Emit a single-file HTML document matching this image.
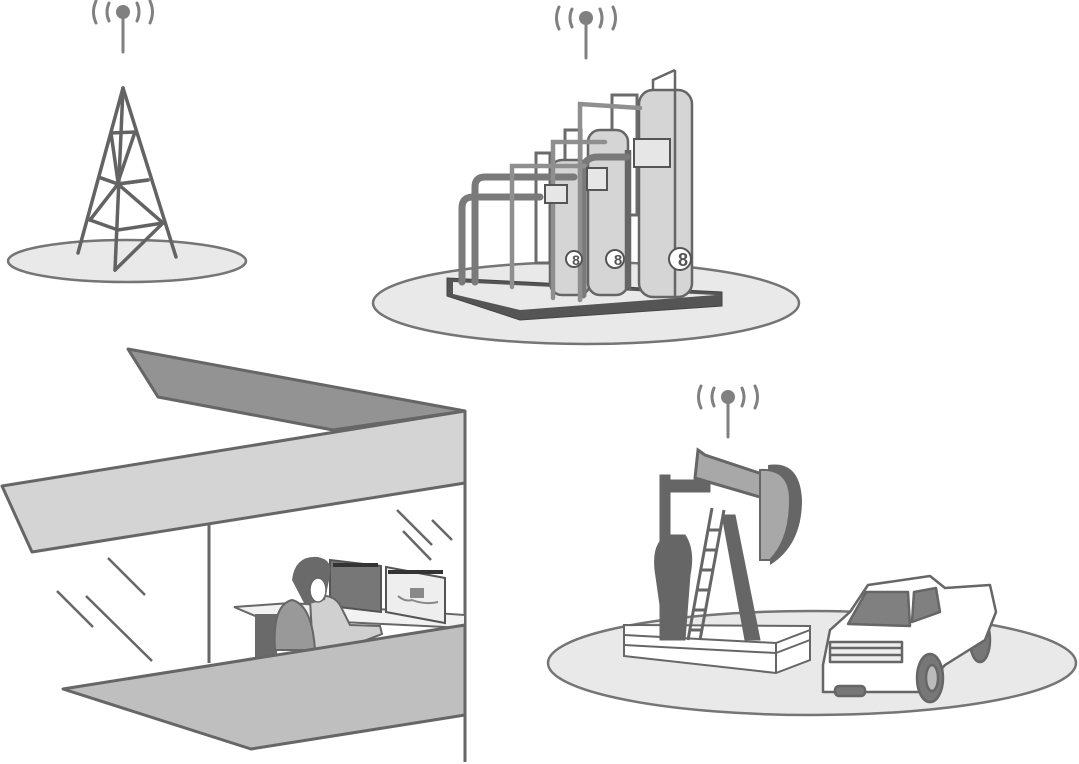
<!DOCTYPE html>
<html><head><meta charset="utf-8"><style>html,body{margin:0;padding:0;background:#fff}svg{display:block}</style></head><body>
<svg width="1079" height="764" viewBox="0 0 1079 764" xmlns="http://www.w3.org/2000/svg">
<defs>
<g id="ant" stroke="#808080" fill="none" stroke-linecap="round">
<circle cx="0" cy="0" r="7" fill="#808080" stroke="none"/>
<line x1="0" y1="0" x2="0" y2="40" stroke-width="3"/>
<path d="M-14,-9 Q-18,0 -14,9 M14,-9 Q18,0 14,9" stroke-width="3"/>
<path d="M-27,-11 Q-32,0 -27,11 M27,-11 Q32,0 27,11" stroke-width="3"/>
</g>
</defs>
<use href="#ant" x="123" y="12"/>
<use href="#ant" x="586" y="18"/>
<use href="#ant" x="728" y="397"/>

<!-- tower -->
<ellipse cx="127" cy="261" rx="119" ry="21" fill="#e8e9e8" stroke="#757575" stroke-width="2.5"/>
<g stroke="#636363" stroke-width="3.5" fill="none" stroke-linecap="round">
<line x1="123" y1="88" x2="78" y2="253"/>
<line x1="123" y1="88" x2="176" y2="257"/>
<line x1="123" y1="88" x2="115" y2="270"/>
<path d="M111,133 L135,132 L118,182 L111,133"/>
<path d="M101,178 L118,184 L148,180"/>
<path d="M90,220 L118,230 L163,223"/>
<path d="M101,178 L118,184 L163,223 M148,180 L118,184 L90,220"/>
<path d="M115,270 L163,223"/>
</g>

<!-- plant -->
<ellipse cx="586" cy="303" rx="213" ry="41" fill="#e8e9e8" stroke="#757575" stroke-width="2.5"/>
<polygon points="447,278 722,292 722,306 520,320 447,296" fill="#555" stroke="#444" stroke-width="1"/>
<polygon points="453,282 716,295 520,310 453,294" fill="#e8e9e8"/>
<g stroke="#6b6b6b" stroke-width="3" fill="none">
<rect x="536" y="153" width="14" height="110"/>
<rect x="565" y="130" width="16" height="130"/>
<rect x="612" y="95" width="25" height="120"/>
</g>
<g stroke="#666" stroke-width="2.5">
<rect x="550" y="160" width="40" height="135" rx="12" fill="#d4d5d4"/>
<rect x="588" y="130" width="40" height="165" rx="12" fill="#d4d5d4"/>
<rect x="639" y="90" width="53" height="207" rx="14" fill="#d4d5d4"/>
<line x1="675" y1="70" x2="675" y2="297"/>
<path d="M653,90 L653,80 L675,70" fill="none"/>
<line x1="630" y1="150" x2="630" y2="290"/><line x1="626" y1="150" x2="626" y2="290"/>
</g>
<g stroke="#666" stroke-width="1.5">
<line x1="626" y1="170" x2="630" y2="170"/><line x1="626" y1="185" x2="630" y2="185"/><line x1="626" y1="200" x2="630" y2="200"/><line x1="626" y1="215" x2="630" y2="215"/><line x1="626" y1="230" x2="630" y2="230"/><line x1="626" y1="245" x2="630" y2="245"/><line x1="626" y1="260" x2="630" y2="260"/><line x1="626" y1="275" x2="630" y2="275"/>
</g>
<g stroke="#7a7a7a" stroke-width="7" fill="none" stroke-linecap="round">
<path d="M462,282 L462,208 Q462,197 473,197 L540,197"/>
<path d="M475,282 L475,187 Q475,177 485,177 L574,177"/>
<path d="M583,295 L583,172 Q583,157 598,157 L627,157"/>
</g>
<g stroke="#8f8f8f" stroke-width="4.5" fill="none" stroke-linecap="round">
<path d="M512,287 L512,166 L585,166"/>
<path d="M553,298 L553,142 L605,142"/>
<path d="M580,300 L580,104 L640,108"/>
</g>
<g stroke="#555" stroke-width="2" fill="#e6e6e6">
<rect x="545" y="185" width="22" height="18"/>
<rect x="587" y="168" width="20" height="22"/>
<rect x="634" y="139" width="36" height="28"/>
<circle cx="574" cy="259" r="8" fill="#fff"/><circle cx="615" cy="259" r="9" fill="#fff"/><circle cx="680" cy="259" r="11" fill="#fff"/>
</g>
<g font-family="Liberation Sans, sans-serif" font-weight="bold" fill="#555" text-anchor="middle">
<text x="576" y="265" font-size="14">8</text><text x="618" y="265" font-size="15">8</text><text x="683" y="266" font-size="18">8</text>
</g>

<!-- building -->
<polygon points="128,349 465,411 333,430 158,397" fill="#939393" stroke="#666" stroke-width="3" stroke-linejoin="round"/>
<polygon points="2,486 465,411 465,483 32,552" fill="#d4d4d4" stroke="#666" stroke-width="3" stroke-linejoin="round"/>
<line x1="465" y1="411" x2="465" y2="762" stroke="#666" stroke-width="3"/>
<line x1="209" y1="525" x2="209" y2="663" stroke="#666" stroke-width="3"/>
<g stroke="#666" stroke-width="2.5">
<line x1="108" y1="558" x2="145" y2="595"/><line x1="57" y1="591" x2="93" y2="627"/><line x1="86" y1="596" x2="152" y2="661"/>
<line x1="397" y1="510" x2="432" y2="545"/><line x1="403" y1="531" x2="431" y2="560"/><line x1="432" y1="520" x2="452" y2="540"/>
</g>
<polygon points="234,607 290,603 465,615 465,628 260,618" fill="#f2f2f2" stroke="#666" stroke-width="2"/>
<rect x="255" y="614" width="22" height="45" fill="#6a6a6a"/>
<polygon points="330,560 381,566 381,612 330,606" fill="#777" stroke="#555" stroke-width="2"/>
<rect x="333" y="563" width="45" height="4" fill="#333"/>
<polygon points="386,567 445,578 445,623 386,612" fill="#eee" stroke="#555" stroke-width="2"/>
<rect x="388" y="570" width="55" height="4" fill="#333"/>
<rect x="410" y="588" width="14" height="10" fill="#888"/>
<path d="M398,596 Q405,602 412,600 Q425,605 438,602" stroke="#888" stroke-width="2" fill="none"/>
<path d="M310,600 Q330,590 340,605 L350,625 L380,626 L382,634 L340,650 L313,650 Z" fill="#d0d0d0" stroke="#666" stroke-width="2"/>
<path d="M292,580 Q295,555 318,557 Q333,560 330,575 L325,600 L305,605 Z" fill="#6a6a6a"/>
<ellipse cx="318" cy="590" rx="8" ry="12" fill="#fff" stroke="#666" stroke-width="1.5"/>
<path d="M275,650 Q272,605 292,600 Q312,605 315,650 Z" fill="#999" stroke="#666" stroke-width="2"/>
<polygon points="63,689 465,625 465,715 251,749" fill="#bfbfbf" stroke="#666" stroke-width="3" stroke-linejoin="round"/>

<!-- pump jack -->
<ellipse cx="812" cy="663" rx="264" ry="52" fill="#e8e9e8" stroke="#757575" stroke-width="2.5"/>
<g stroke="#666" stroke-width="2" fill="#fff">
<polygon points="624,625 810,626 810,660 776,673 624,656"/>
<line x1="624" y1="635" x2="776" y2="643"/><line x1="624" y1="645" x2="776" y2="653"/>
<line x1="776" y1="643" x2="810" y2="630"/><line x1="776" y1="653" x2="810" y2="640"/><line x1="776" y1="643" x2="776" y2="673"/>
</g>
<g fill="#666" stroke="#666">
<rect x="660" y="475" width="10" height="165"/>
<path d="M655,570 Q652,540 670,535 L685,535 Q695,550 690,575 L685,640 L665,640 Z"/>
<rect x="660" y="480" width="50" height="12"/>
<polygon points="722,515 735,515 760,640 745,640"/>
</g>
<g stroke="#666" stroke-width="3">
<line x1="712" y1="508" x2="688" y2="640"/><line x1="724" y1="510" x2="700" y2="640"/>
<line x1="708" y1="530" x2="721" y2="530"/><line x1="705" y1="550" x2="718" y2="550"/><line x1="701" y1="570" x2="714" y2="570"/><line x1="697" y1="590" x2="710" y2="590"/><line x1="694" y1="610" x2="706" y2="610"/><line x1="690" y1="630" x2="702" y2="630"/>
</g>
<polygon points="698,450 705,455 780,480 770,500 695,478" fill="#a8a8a8" stroke="#666" stroke-width="3"/>
<path d="M768,465 Q800,460 802,500 Q802,545 770,565 Z" fill="#666"/>
<path d="M760,470 Q790,468 790,500 Q790,540 770,560 L760,560 Z" fill="#a8a8a8" stroke="#666" stroke-width="2"/>
<!-- truck -->
<g stroke="#666" stroke-width="2.5" fill="#fff" stroke-linejoin="round">
<ellipse cx="980" cy="640" rx="10" ry="22" fill="#777"/>
<path d="M823,665 L830,630 L850,612 L868,585 L930,576 L945,588 L990,585 L996,612 L985,640 L945,665 L920,692 L823,692 Z"/>
<polygon points="866,592 908,592 910,626 848,624" fill="#808080"/>
<polygon points="914,592 936,588 940,612 912,622" fill="#808080"/>
<rect x="830" y="642" width="72" height="20" fill="#eee"/>
<line x1="830" y1="648" x2="902" y2="648"/><line x1="830" y1="655" x2="902" y2="655"/>
<ellipse cx="930" cy="678" rx="13" ry="24" fill="#777"/>
<ellipse cx="932" cy="678" rx="6" ry="13" fill="#bbb"/>
<rect x="835" y="686" width="30" height="10" rx="4" fill="#777"/>
</g>
</svg>
</body></html>
